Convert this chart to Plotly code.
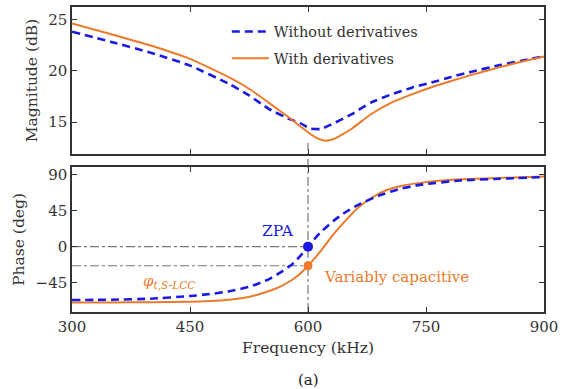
import plotly.graph_objects as go

# Magnitude response (dB)
freq_mag_wo = [300, 350, 400, 450, 500, 525, 550, 575, 590, 603, 616, 629, 655, 680, 706,
               732, 757, 782, 808, 844, 870, 900]
mag_wo = [23.8, 22.8, 21.75, 20.5, 18.7, 17.6, 16.3, 15.35, 14.9, 14.38, 14.33, 14.75, 15.75,
          16.9, 17.7, 18.35, 18.85, 19.4, 19.9, 20.55, 20.95, 21.4]

freq_mag_w = [300, 350, 400, 450, 500, 525, 550, 575, 590, 603, 612, 622, 632, 641, 655,
              680, 706, 732, 757, 782, 808, 844, 870, 900]
mag_w = [24.6, 23.55, 22.45, 21.15, 19.35, 18.25, 16.9, 15.5, 14.6, 13.85, 13.42, 13.2, 13.33,
         13.68, 14.33, 15.77, 16.9, 17.7, 18.4, 19.0, 19.6, 20.35, 20.85, 21.4]

# Phase response (deg)
freq_ph_wo = [300, 350, 400, 450, 475, 500, 525, 550, 564, 580, 590, 600, 615, 632, 648, 665,
              690, 715, 742, 793, 844, 900]
ph_wo = [-67, -66.6, -65.3, -62, -59.5, -56, -50.5, -41, -33, -22, -12, 0, 17, 32, 43.5, 53,
         64, 72, 77.5, 83, 85.2, 87.3]

freq_ph_w = [300, 350, 400, 450, 475, 500, 526, 545, 564, 580, 590, 600, 615, 632, 648, 665,
             682, 700, 720, 742, 793, 844, 900]
ph_w = [-70, -70, -69.8, -69.2, -68.3, -66.5, -62.8, -57.5, -50.4, -41.5, -34, -24, -7, 15, 33,
        50, 62, 71, 76.5, 80, 84.5, 86.2, 88]

# Operating point at 600 kHz
f_op = 600
zpa_phase = 0
cap_phase = -24

x_ticks = [300, 450, 600, 750, 900]
mag_ticks = [15, 20, 25]
ph_ticks = [-45, 0, 45, 90]

BLUE = "#1a1ae0"
ORANGE = "#ec7a2a"
GRAY = "#777777"
INK = "#333333"
FONT = "DejaVu Serif, serif"

fig = go.Figure()

fig.add_trace(go.Scatter(x=freq_mag_wo, y=mag_wo, mode="lines", name="Without derivatives",
                         legendgroup="wo",
                         line=dict(color=BLUE, width=2.6, dash="8px,5px", shape="spline", smoothing=0.5),
                         xaxis="x", yaxis="y"))
fig.add_trace(go.Scatter(x=freq_mag_w, y=mag_w, mode="lines", name="With derivatives",
                         legendgroup="w",
                         line=dict(color=ORANGE, width=2, shape="spline", smoothing=0.5),
                         xaxis="x", yaxis="y"))

fig.add_trace(go.Scatter(x=freq_ph_w, y=ph_w, mode="lines", showlegend=False, legendgroup="w",
                         line=dict(color=ORANGE, width=2, shape="spline", smoothing=0.5),
                         xaxis="x2", yaxis="y2"))
fig.add_trace(go.Scatter(x=freq_ph_wo, y=ph_wo, mode="lines", showlegend=False, legendgroup="wo",
                         line=dict(color=BLUE, width=2.6, dash="8px,5px", shape="spline", smoothing=0.5),
                         xaxis="x2", yaxis="y2"))

# Reference guides at the operating frequency
for yv in (zpa_phase, cap_phase):
    fig.add_shape(type="line", xref="x2", yref="y2", x0=300, x1=f_op, y0=yv, y1=yv,
                  line=dict(color=GRAY, width=1.2, dash="dashdot"), layer="below")
fig.add_shape(type="line", xref="x2", yref="paper", x0=f_op, x1=f_op, y0=0, y1=0.554,
              line=dict(color=GRAY, width=1.2, dash="dashdot"), layer="below")

fig.add_trace(go.Scatter(x=[f_op], y=[zpa_phase], mode="markers", showlegend=False,
                         marker=dict(color=BLUE, size=10), xaxis="x2", yaxis="y2"))
fig.add_trace(go.Scatter(x=[f_op], y=[cap_phase], mode="markers", showlegend=False,
                         marker=dict(color=ORANGE, size=9), xaxis="x2", yaxis="y2"))

axis_common = dict(showline=True, linecolor=INK, linewidth=1.5, mirror="allticks",
                   ticks="inside", ticklen=5, tickwidth=1.2, tickcolor=INK,
                   showgrid=False, zeroline=False,
                   tickfont=dict(family=FONT, size=15, color=INK))
title_font = dict(family=FONT, size=15.5, color=INK)

fig.update_layout(
    width=572, height=389,
    margin=dict(l=72, r=28, t=5, b=77),
    plot_bgcolor="white", paper_bgcolor="white",
    font=dict(family=FONT, color=INK),
    xaxis=dict(domain=[0, 1], range=[300, 900], tickvals=x_ticks, showticklabels=False,
               anchor="y", **axis_common),
    yaxis=dict(domain=[0.518, 1], range=[11.9, 26.2], tickvals=mag_ticks, anchor="x",
               title=dict(text="Magnitude (dB)", font=title_font, standoff=7),
               **axis_common),
    xaxis2=dict(domain=[0, 1], range=[300, 900], tickvals=x_ticks, anchor="y2",
                title=dict(text="Frequency (kHz)", font=title_font, standoff=7),
                **axis_common),
    yaxis2=dict(domain=[0, 0.4756], range=[-82, 100], tickvals=ph_ticks, anchor="x2",
                title=dict(text="Phase (deg)", font=title_font, standoff=7),
                **axis_common),
    legend=dict(x=0.328, y=0.972, xanchor="left", yanchor="top", bgcolor="rgba(0,0,0,0)",
                itemwidth=37, tracegroupgap=5,
                font=dict(family=FONT, size=14.5, color=INK)),
    showlegend=True,
)

fig.add_annotation(x=f_op, y=zpa_phase, xref="x2", yref="y2", text="ZPA", showarrow=False,
                   xanchor="right", yanchor="bottom", xshift=-12, yshift=5,
                   font=dict(family=FONT, size=15.5, color=BLUE))
fig.add_annotation(x=f_op, y=cap_phase, xref="x2", yref="y2", text="Variably capacitive",
                   showarrow=False, xanchor="left", yanchor="middle", xshift=14, yshift=-11,
                   font=dict(family=FONT, size=15, color=ORANGE))
fig.add_annotation(x=388, y=cap_phase, xref="x2", yref="y2",
                   text="<i>φ</i><sub><i>t,S-LCC</i></sub>", showarrow=False,
                   xanchor="left", yanchor="top", xshift=0, yshift=-4,
                   font=dict(family=FONT, size=15, color=ORANGE))
fig.add_annotation(x=0.5, y=-0.222, xref="paper", yref="paper", text="(a)", showarrow=False,
                   xanchor="center", yanchor="middle",
                   font=dict(family=FONT, size=15, color="#222222"))

fig.write_html("out.html")
